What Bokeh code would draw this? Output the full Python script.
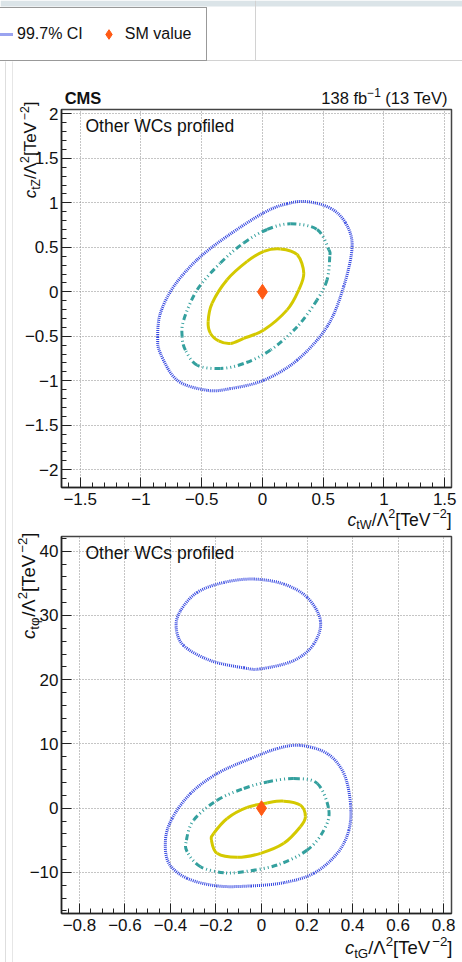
import numpy as np
from bokeh.plotting import figure
from bokeh.models import (Range1d, FixedTicker, CustomJSTickFormatter, Label, Legend,
                          LegendItem, ColumnDataSource, BoxAnnotation)
from bokeh.layouts import column
from bokeh.embed import file_html
from bokeh.resources import INLINE

# ---------------- data ----------------
# top panel: c_tW (x) vs c_tZ (y)
ctw_683 = [0.148, 0.286, 0.340, 0.299, 0.203, 0.011, -0.154, -0.263, -0.360, -0.428, -0.447, -0.414, -0.291, -0.126, 0.011]
ctz_683 = [0.482, 0.418, 0.211, 0.023, -0.203, -0.429, -0.523, -0.580, -0.551, -0.467, -0.336, -0.128, 0.136, 0.342, 0.455]

ctw_955 = [0.230, 0.450, 0.546, 0.554, 0.532, 0.450, 0.286, 0.066, -0.154, -0.346, -0.537, -0.634, -0.661, -0.648, -0.537, -0.346, -0.154, 0.039]
ctz_955 = [0.765, 0.701, 0.475, 0.399, 0.136, -0.090, -0.392, -0.655, -0.806, -0.862, -0.825, -0.655, -0.505, -0.316, 0.023, 0.324, 0.550, 0.701]

ctw_997 = [0.368, 0.560, 0.683, 0.738, 0.669, 0.532, 0.286, 0.011, -0.263, -0.455, -0.702, -0.840, -0.862, -0.840, -0.730, -0.537, -0.291, 0.011, 0.203]
ctz_997 = [1.014, 0.940, 0.776, 0.512, 0.060, -0.392, -0.768, -0.994, -1.088, -1.107, -0.994, -0.693, -0.505, -0.241, 0.060, 0.362, 0.625, 0.889, 0.991]

# bottom panel: c_tG (x) vs c_tphi (y)
ctg_683 = [-0.220, -0.195, -0.107, -0.004, 0.098, 0.171, 0.193, 0.171, 0.098, 0.025, -0.063, -0.151, -0.210]
ctp_683 = [-4.97, -7.03, -7.66, -7.03, -5.48, -2.90, -1.35, 0.47, 1.09, 0.82, 0.11, -1.60, -3.93]

ctg_955 = [0.142, 0.245, 0.296, 0.274, 0.201, 0.069, -0.078, -0.166, -0.268, -0.327, -0.330, -0.298, -0.195, -0.078, 0.025]
ctp_955 = [4.61, 3.84, -0.31, -3.42, -6.52, -8.85, -9.89, -10.05, -9.11, -6.79, -4.97, -1.86, 1.24, 3.06, 4.08]

ctg_997_low = [0.171, 0.289, 0.362, 0.391, 0.384, 0.333, 0.230, 0.098, -0.048, -0.195, -0.327, -0.407, -0.422, -0.393, -0.312, -0.195, -0.048, 0.069]
ctp_997_low = [9.78, 8.49, 5.39, 0.73, -3.42, -7.03, -10.14, -11.60, -12.11, -12.11, -10.92, -8.59, -4.97, -1.60, 2.28, 5.39, 7.72, 9.27]

ctg_997_up = [-0.034, 0.098, 0.201, 0.259, 0.230, 0.142, -0.004, -0.078, -0.224, -0.342, -0.375, -0.356, -0.283, -0.166]
ctp_997_up = [35.67, 34.89, 32.81, 29.19, 25.57, 22.98, 21.69, 21.85, 22.98, 25.31, 28.15, 30.75, 33.59, 35.14]

sm_x = [0.0]
sm_y = [0.0]

top_xticks = [-1.5, -1.0, -0.5, 0.0, 0.5, 1.0, 1.5]
top_yticks = [-2.0, -1.5, -1.0, -0.5, 0.0, 0.5, 1.0, 1.5, 2.0]
bot_xticks = [-0.8, -0.6, -0.4, -0.2, 0.0, 0.2, 0.4, 0.6, 0.8]
bot_yticks = [-10, 0, 10, 20, 30, 40]

legend_labels = ["99.7% CI", "SM value"]
cms_text = "CMS"
lumi_text = ["138 fb", "\u22121", " (13 TeV)"]
profiled_text = "Other WCs profiled"
xlab_top = [("c", 'i'), ("tW", 'sub'), ("/Λ", 'n'), ("2", 'sup'), ("[TeV", 'n'), ("\u22122", 'sup'), ("]", 'n')]
ylab_top = [("c", 'i'), ("tZ", 'sub'), ("/Λ", 'n'), ("2", 'sup'), ("[TeV", 'n'), ("\u22122", 'sup'), ("]", 'n')]
xlab_bot = [("c", 'i'), ("tG", 'sub'), ("/Λ", 'n'), ("2", 'sup'), ("[TeV", 'n'), ("\u22122", 'sup'), ("]", 'n')]
ylab_bot = [("c", 'i'), ("tφ", 'sub'), ("/Λ", 'n'), ("2", 'sup'), ("[TeV", 'n'), ("\u22122", 'sup'), ("]", 'n')]

# ---------------- styles ----------------
FONT = "Liberation Sans"
C_BLUE = "#3446e0"
C_TEAL = "#34a09e"
C_YEL = "#d4c900"
C_SM = "#ff5a14"
DOT = dict(line_color=C_BLUE, line_width=3, line_dash="1 1")
DDD = dict(line_color=C_TEAL, line_width=3, line_dash="6 3 1 3 1 3 1 3")
SOL = dict(line_color=C_YEL, line_width=3)
BASE = 0.34   # distance (em) between alphabetic baseline and the text's middle, used for placing

W = {'c': .5, 't': .278, 'Z': .611, 'W': .944, 'G': .778, 'φ': .70, '/': .278, 'Λ': .667,
     '2': .556, '[': .278, 'T': .611, 'e': .556, 'V': .667, ']': .278, '\u2212': .584,
     '1': .556, '3': .556, '8': .556, ' ': .278, 'f': .278, 'b': .556, '(': .333, ')': .333}


def tw(s):
    return sum(W.get(ch, 0.556) for ch in s)


SCALE = {'n': 1.0, 'i': 1.0, 'b': 1.0, 'sub': 0.72, 'sup': 0.72}
SHIFT = {'n': 0.0, 'i': 0.0, 'b': 0.0, 'sub': -0.22, 'sup': 0.42}
STYLE = {'n': "normal", 'i': "italic", 'b': "bold", 'sub': "normal", 'sup': "normal"}

fmt = CustomJSTickFormatter(code="""
const a = Math.abs(tick);
const s = (+a.toFixed(4)).toString();
return (tick < -1e-12 ? '\u2212' : '') + s;
""")


def make_panel(xr, yr, xt, yt, xminor, yminor, fw, fh, top, bottom, tick_fs):
    p = figure(title=None, frame_width=fw, frame_height=fh, min_border_left=61, min_border_right=11,
               min_border_top=top, min_border_bottom=bottom, x_range=Range1d(*xr), y_range=Range1d(*yr),
               toolbar_location=None, output_backend="svg", background_fill_color="white",
               border_fill_color="white")
    p.outline_line_color = "#444444"
    p.outline_line_width = 1.5
    p.xaxis.ticker = FixedTicker(ticks=xt, minor_ticks=xminor)
    p.yaxis.ticker = FixedTicker(ticks=yt, minor_ticks=yminor)
    for ax in (p.xaxis[0], p.yaxis[0]):
        ax.formatter = fmt
        ax.major_tick_in = 10
        ax.major_tick_out = 0
        ax.minor_tick_in = 5
        ax.minor_tick_out = 0
        ax.major_tick_line_color = "#222222"
        ax.minor_tick_line_color = "#222222"
        ax.axis_line_color = "#222222"
        ax.axis_line_width = 1.5
        ax.major_label_text_font = FONT
        ax.major_label_text_font_size = tick_fs
        ax.major_label_text_color = "#111111"
    p.xaxis.major_label_standoff = 5
    p.yaxis.major_label_standoff = 3
    for g in (p.xgrid[0], p.ygrid[0]):
        g.grid_line_color = "#8a8a8a"
        g.grid_line_dash = "1 2"
        g.grid_line_width = 1
    return p


def smooth(p, xs, ys, **kw):
    """closed contour through the read points, drawn as Catmull-Rom bezier pieces"""
    n = len(xs)
    X = np.asarray(xs, float)
    Y = np.asarray(ys, float)
    i = np.arange(n)
    im, ip, ip2 = (i - 1) % n, (i + 1) % n, (i + 2) % n
    p.bezier(x0=X, y0=Y, x1=X[ip], y1=Y[ip],
             cx0=X + (X[ip] - X[im]) / 6, cy0=Y + (Y[ip] - Y[im]) / 6,
             cx1=X[ip] - (X[ip2] - X) / 6, cy1=Y[ip] - (Y[ip2] - Y) / 6, **kw)


# ---------------- top panel ----------------
top_xminor = [round(v, 2) for v in np.arange(-1.6, 1.56, 0.1)]
top_yminor = [round(v, 2) for v in np.arange(-2.2, 2.06, 0.1)]
p1 = make_panel((-1.654, 1.556), (-2.2, 2.05), top_xticks, top_yticks, top_xminor, top_yminor,
                390, 378, 109, 43, "17px")
smooth(p1, ctw_997, ctz_997, **DOT)
smooth(p1, ctw_955, ctz_955, **DDD)
smooth(p1, ctw_683, ctz_683, **SOL)
p1.scatter(sm_x, sm_y, marker="diamond", size=15, fill_color=C_SM, line_color=C_SM)
p1.add_layout(Label(x=24, y=356 + BASE * 17.5, x_units="screen", y_units="screen", text=profiled_text,
                    text_font=FONT, text_font_size="17.5px", text_color="#111111", text_baseline="middle"))

# ---------------- bottom panel ----------------
bot_xminor = [round(v, 3) for v in np.arange(-0.85, 0.83, 0.05)]
bot_yminor = [round(v, 1) for v in np.arange(-16, 42.1, 2)]
p2 = make_panel((-0.879, 0.835), (-16.4, 42.3), bot_xticks, bot_yticks, bot_xminor, bot_yminor,
                390, 377, 6, 49, "17px")
smooth(p2, ctg_997_up, ctp_997_up, **DOT)
smooth(p2, ctg_997_low, ctp_997_low, **DOT)
smooth(p2, ctg_955, ctp_955, **DDD)
smooth(p2, ctg_683, ctp_683, **SOL)
p2.scatter(sm_x, sm_y, marker="diamond", size=15, fill_color=C_SM, line_color=C_SM)
p2.add_layout(Label(x=24, y=355 + BASE * 17.5, x_units="screen", y_units="screen", text=profiled_text,
                    text_font=FONT, text_font_size="17.5px", text_color="#111111", text_baseline="middle"))

# ---------------- transparent overlay (page pixel coordinates): legend, headers, axis titles ----------------
ov = figure(width=462, height=962, x_range=Range1d(0, 462), y_range=Range1d(962, 0), min_border=0,
            x_axis_type=None, y_axis_type=None, toolbar_location=None, output_backend="svg",
            styles={"position": "absolute", "top": "0px", "left": "0px", "z-index": "5",
                    "pointer-events": "none"})
ov.outline_line_color = None
ov.background_fill_alpha = 0
ov.border_fill_alpha = 0

# page decorations
for l, r, t, b, c in [(0, 462, 0, 6, "#dbe4e8"), (254.5, 255.5, 0, 60, "#d2d2d2"), (0, 462, 59.5, 60.5, "#d2d2d2"),
                      (4.5, 5.5, 61, 962, "#dedede"), (11.5, 12.5, 61, 962, "#e6e6e6")]:
    ov.add_layout(BoxAnnotation(left=l, right=r, top=t, bottom=b, fill_color=c, fill_alpha=1, line_color=None))

# legend (sample renderers hold points outside the visible page)
off = ColumnDataSource(data=dict(x=[-100.0, -99.0], y=[-100.0, -100.0]))
lr1 = ov.line("x", "y", source=off, **DOT)
lr2 = ov.scatter("x", "y", source=off, marker="diamond", size=14, fill_color=C_SM, line_color=C_SM)
legend = Legend(items=[LegendItem(label=legend_labels[0], renderers=[lr1]),
                       LegendItem(label=legend_labels[1], renderers=[lr2])],
                orientation="horizontal", location=(-27, 901), padding=14, spacing=13, label_standoff=4,
                glyph_width=25, glyph_height=24, label_height=20, margin=0,
                label_text_font=FONT, label_text_font_size="16px", label_text_color="#111111",
                border_line_color="#333333", border_line_width=1, background_fill_color="white",
                background_fill_alpha=1)
ov.add_layout(legend, "center")


def lab(x, y, text, fs, style="normal", angle=0.0):
    ov.add_layout(Label(x=x, y=y, text=text, angle=angle, text_font=FONT, text_font_size=f"{fs:.1f}px",
                        text_font_style=style, text_color="#111111", text_align="left",
                        text_baseline="middle"))


def rich(pieces, x_anchor, y_anchor, fs, vertical=False):
    """pieces laid out so that the text ends at the anchor (right end, or top end if vertical);
    the other anchor coordinate is the alphabetic baseline of the main text"""
    total = sum(tw(t) * fs * SCALE[k] for t, k in pieces)
    cum = 0.0
    for t, k in pieces:
        size = fs * SCALE[k]
        shift = SHIFT[k] * fs + BASE * size
        lead = len(t) - len(t.lstrip(" "))
        cum += tw(" " * lead) * size          # leading blanks become an advance
        body = t.strip(" ")
        if vertical:
            lab(x_anchor - shift, y_anchor + total - cum, body, size, STYLE[k], np.pi / 2)
        else:
            lab(x_anchor - total + cum, y_anchor - shift, body, size, STYLE[k])
        cum += tw(t.lstrip(" ")) * size


rich([(cms_text, 'b')], 62 + tw(cms_text) * 16.5 * 1.08, 103, 16.5)
rich([(lumi_text[0], 'n'), (lumi_text[1], 'sup'), (lumi_text[2], 'n')], 449, 103, 16.5)
rich(xlab_top, 451, 525, 17.5)
rich(ylab_top, 35.5, 101, 17.0, vertical=True)
rich(xlab_bot, 452, 953, 18.5)
rich(ylab_bot, 34.5, 532, 18.5, vertical=True)

layout = column(p1, p2, spacing=0)
open("out.html", "w").write(file_html([layout, ov], INLINE))
